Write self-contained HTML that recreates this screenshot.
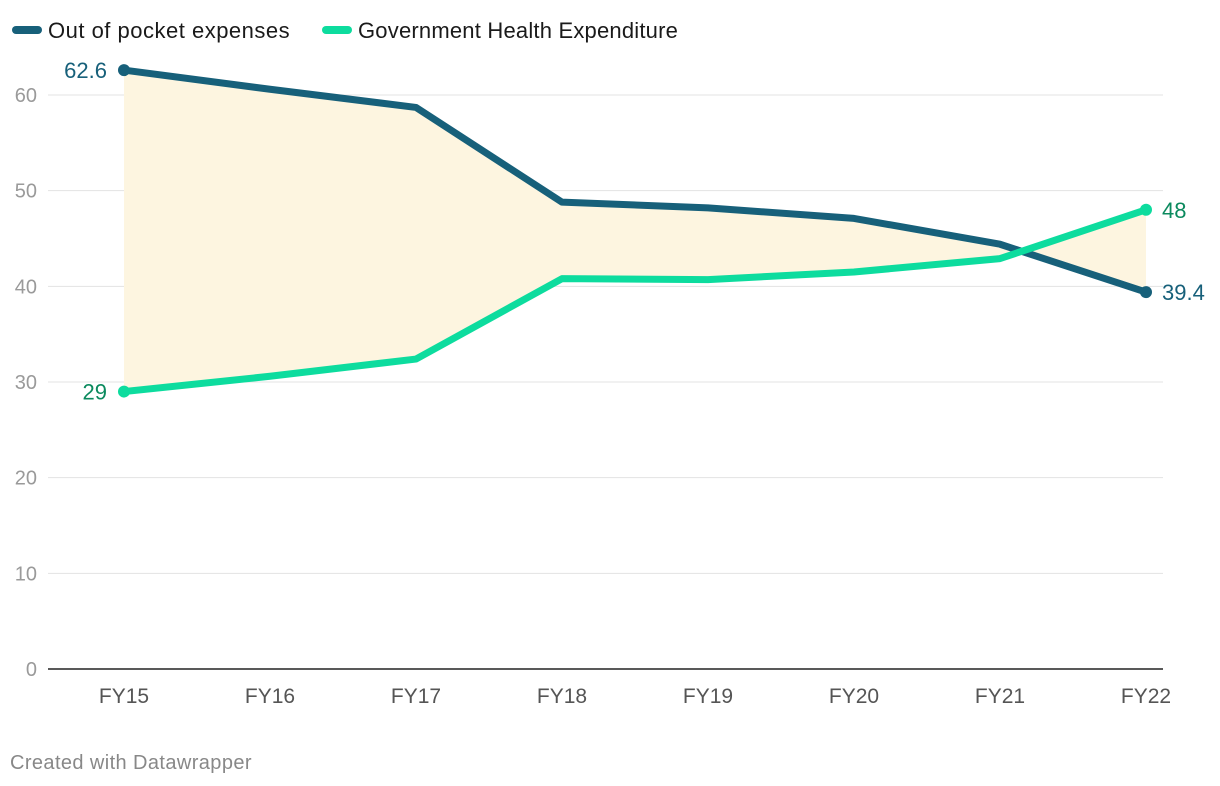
<!DOCTYPE html>
<html><head><meta charset="utf-8"><style>
body{margin:0;background:#fff;width:1220px;height:786px;overflow:hidden;font-family:"Liberation Sans",sans-serif}
svg{display:block}
</style></head><body>
<svg id="chart" width="1220" height="786">
<g>
<line x1="16" y1="30" x2="38" y2="30" stroke="#17607a" stroke-width="8" stroke-linecap="round"/>
<text x="48" y="38" font-size="22" letter-spacing="0.5" fill="#1a1a1a">Out of pocket expenses</text>
<line x1="326" y1="30" x2="348" y2="30" stroke="#0ddc9e" stroke-width="8" stroke-linecap="round"/>
<text x="358" y="38" font-size="22" letter-spacing="0.2" fill="#1a1a1a">Government Health Expenditure</text>
</g>
<g id="grid"></g><g id="area"></g><g id="lines"></g><g id="xaxis"></g><g id="labels"></g>
<text x="10" y="769" font-size="20" letter-spacing="0.4" fill="#888">Created with Datawrapper</text>
</svg>
<script>
const categories=["FY15","FY16","FY17","FY18","FY19","FY20","FY21","FY22"];
const oop=[62.6,60.6,58.7,48.8,48.2,47.1,44.4,39.4];
const ghe=[29,30.6,32.4,40.8,40.7,41.5,42.9,48];
const yTicks=[0,10,20,30,40,50,60];
const NS="http://www.w3.org/2000/svg";
const x=i=>124+i*(1146-124)/(categories.length-1);
const y=v=>669-v*(669-95)/60;
function mk(tag,attrs,parent,txt){const e=document.createElementNS(NS,tag);for(const k in attrs)e.setAttribute(k,attrs[k]);if(txt!==undefined)e.textContent=txt;document.getElementById(parent).appendChild(e);return e;}
yTicks.forEach(t=>{
 const l=mk('line',{x1:48,x2:1163,y1:y(t),y2:y(t),stroke:t===0?'#222':'#e3e3e3','stroke-width':t===0?1.5:1},'grid');
 
 
 const tx=mk('text',{x:37,y:y(t)+7,'font-size':20,fill:'#9a9a9a','text-anchor':'end'},'grid',t);
 
 
});
categories.forEach((c,i)=>{
 const tx=mk('text',{x:x(i),y:703,'font-size':21,fill:'#555','text-anchor':'middle'},'xaxis',c);
 
 
});
let d=oop.map((v,i)=>(i?'L':'M')+x(i)+','+y(v)).join('')+ghe.map((v,i)=>i).reverse().map(i=>'L'+x(i)+','+y(ghe[i])).join('')+'Z';
const a=mk('path',{d:d,fill:'#fdf5e0'},'area');


[[oop,'#17607a','oop'],[ghe,'#0ddc9e','ghe']].forEach(([s,col,n])=>{
 const p=mk('path',{d:s.map((v,i)=>(i?'L':'M')+x(i)+','+y(v)).join(''),fill:'none',stroke:col,'stroke-width':7,'stroke-linejoin':'round'},'lines');
 
 
 [0,s.length-1].forEach(i=>{
  const c=mk('circle',{cx:x(i),cy:y(s[i]),r:6,fill:col},'lines');
  
  
 });
});
const lab=(txt,xx,yy,anchor,col,n)=>{const t=mk('text',{x:xx,y:yy,'font-size':22,fill:col,'text-anchor':anchor},'labels',txt);
 
 };
const L=categories.length-1;
lab(oop[0],107,y(oop[0])+8,'end','#17607a','label-oop-first');
lab(ghe[0],107,y(ghe[0])+8,'end','#0b8a5e','label-ghe-first');
lab(oop[L],1162,y(oop[L])+8,'start','#17607a','label-oop-last');
lab(ghe[L],1162,y(ghe[L])+8,'start','#0b8a5e','label-ghe-last');
</script>
</body></html>
